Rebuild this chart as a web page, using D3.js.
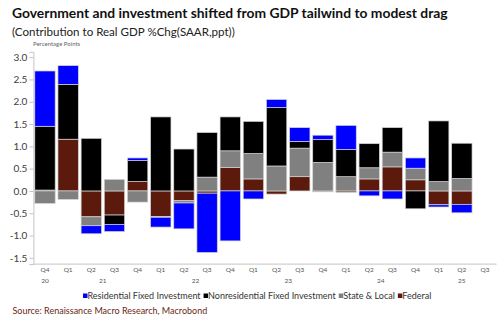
<!DOCTYPE html>
<html>
<head>
<meta charset="utf-8">
<script src="https://cdn.jsdelivr.net/npm/d3@7"></script>
<style>
  body { margin: 0; background: #fff; }
  svg { display: block; }
  text { font-family: Lato, "Open Sans", sans-serif; }
</style>
</head>
<body>
<svg id="chart" width="500" height="323"></svg>
<script>
// Quarterly periods, Q4 2020 through Q3 2025
const periods = ["2020Q4",
  "2021Q1", "2021Q2", "2021Q3", "2021Q4",
  "2022Q1", "2022Q2", "2022Q3", "2022Q4",
  "2023Q1", "2023Q2", "2023Q3", "2023Q4",
  "2024Q1", "2024Q2", "2024Q3", "2024Q4",
  "2025Q1", "2025Q2", "2025Q3"];

// Contributions to real GDP growth, ppt (SAAR); Q3 2025 not yet reported
const federal    = [0.02, 1.16, -0.58, -0.54, 0.21, -0.57, -0.22, -0.05, 0.53, 0.27, -0.07, 0.32, -0.02, -0.03, 0.27, 0.54, 0.25, -0.31, -0.30, null];
const stateLocal = [-0.28, -0.19, -0.20, 0.26, -0.25, -0.02, -0.05, 0.31, 0.37, 0.57, 0.56, 0.64, 0.64, 0.32, 0.25, 0.33, 0.26, 0.21, 0.28, null];
const nonresFixed = [1.43, 1.23, 1.18, -0.21, 0.47, 1.66, 0.94, 1.00, 0.76, 0.72, 1.31, 0.15, 0.51, 0.61, 0.54, 0.55, -0.40, 1.36, 0.79, null];
const resFixed   = [1.24, 0.42, -0.18, -0.16, 0.06, -0.22, -0.58, -1.33, -1.12, -0.18, 0.18, 0.31, 0.10, 0.54, -0.11, -0.18, 0.23, -0.05, -0.19, null];

const yTicks = [3.0, 2.5, 2.0, 1.5, 1.0, 0.5, 0.0, -0.5, -1.0, -1.5];

// Legend order and series styling
const seriesNames = ["Residential Fixed Investment", "Nonresidential Fixed Investment", "State & Local", "Federal"];
const seriesKeys  = ["resid", "nonres", "state", "federal"];
const seriesColors = ["#0000ff", "#000000", "#808080", "#5c1a0c"];

const svg = d3.select("#chart");

// Titles
const title = svg.append("text")
  .attr("x", 12).attr("y", 18)
  .attr("font-size", 14).attr("font-weight", 700).attr("fill", "#111")
  .text("Government and investment shifted from GDP tailwind to modest drag");
const subtitle = svg.append("text")
  .attr("x", 12).attr("y", 36)
  .attr("font-size", 12).attr("fill", "#222")
  .text("(Contribution to Real GDP %Chg(SAAR,ppt))");
svg.append("text")
  .attr("x", 33).attr("y", 46)
  .attr("font-size", 6).attr("fill", "#666")
  .text("Percentage Points");

// Scale a text's font size so it spans a given width
function fitWidth(sel, w) {
  const len = sel.node().getComputedTextLength();
  sel.attr("font-size", parseFloat(sel.attr("font-size")) * w / len);
}
fitWidth(title, 436);
fitWidth(subtitle, 223);

// Scales
const x = d3.scaleBand().domain(periods)
  .range([33.4, 496.6]).paddingInner(0.12).paddingOuter(0.06);
const y = d3.scaleLinear().domain([-1.64, 3.12]).range([264.1, 51.8]);

// Stack: federal nearest zero, then state & local, nonresidential, residential
const rows = periods.map((p, i) => ({
  period: p,
  federal: federal[i] ?? 0,
  state: stateLocal[i] ?? 0,
  nonres: nonresFixed[i] ?? 0,
  resid: resFixed[i] ?? 0
}));
const stackKeys = ["federal", "state", "nonres", "resid"];
const stacked = d3.stack().keys(stackKeys)
  .order(d3.stackOrderNone).offset(d3.stackOffsetDiverging)(rows);

const colorOf = d3.scaleOrdinal().domain(seriesKeys).range(seriesColors);

svg.append("g").selectAll("g")
  .data(stacked)
  .join("g")
  .attr("fill", s => colorOf(s.key))
  .selectAll("rect")
  .data(s => s.filter(d => d[1] !== d[0]))
  .join("rect")
  .attr("x", d => x(d.data.period))
  .attr("width", x.bandwidth())
  .attr("y", d => y(d[1]))
  .attr("height", d => y(d[0]) - y(d[1]))
  .attr("stroke", "#d4d4d4")
  .attr("stroke-width", 0.7);

// Y axis
const yAxis = svg.append("g")
  .attr("transform", `translate(${x.range()[0]},0)`)
  .call(d3.axisLeft(y).tickValues(yTicks).tickSize(4).tickPadding(2)
    .tickFormat(d => d.toFixed(1)));
yAxis.select(".domain").attr("stroke", "#c4c4c4");
yAxis.selectAll(".tick line").attr("stroke", "#c4c4c4");
yAxis.selectAll(".tick text")
  .attr("font-family", "Lato, 'Open Sans', sans-serif")
  .attr("font-size", 10).attr("fill", "#404040");

// X axis: quarter labels with year labels centred under each year
svg.append("line")
  .attr("x1", x.range()[0]).attr("x2", x.range()[1])
  .attr("y1", y.range()[0]).attr("y2", y.range()[0])
  .attr("stroke", "#c4c4c4");

const xLabels = svg.append("g").attr("fill", "#555").attr("font-size", 6.5)
  .attr("text-anchor", "middle");
xLabels.selectAll("text.q")
  .data(periods)
  .join("text")
  .attr("class", "q")
  .attr("x", p => x(p) + x.bandwidth() / 2)
  .attr("y", 272)
  .text(p => p.slice(4));

const years = d3.groups(periods, p => p.slice(2, 4));
xLabels.selectAll("text.yr")
  .data(years)
  .join("text")
  .attr("class", "yr")
  .attr("x", ([, ps]) => (x(ps[0]) + x(ps[ps.length - 1]) + x.bandwidth()) / 2)
  .attr("y", 283)
  .text(([yr]) => yr);

// Legend
const legend = svg.append("g").attr("transform", "translate(83,0)");
let lx = 0;
const legendSize = 9.5;
seriesNames.forEach((name, i) => {
  legend.append("rect")
    .attr("x", lx).attr("y", 293.5).attr("width", 4.5).attr("height", 4.5)
    .attr("fill", seriesColors[i]);
  const t = legend.append("text")
    .attr("x", lx + 4.5).attr("y", 299)
    .attr("font-size", legendSize).attr("fill", "#333")
    .text(name);
  lx += 4.5 + t.node().getComputedTextLength() + 3;
});
// keep the legend within its span
const legendSpan = 347;
if (Math.abs(lx - 3 - legendSpan) > 2) {
  const k = legendSpan / (lx - 3);
  legend.selectAll("text").attr("font-size", legendSize * k);
  let nx = 0;
  legend.selectAll("rect").each(function (d, i) {
    const r = d3.select(this).attr("x", nx);
    const t = d3.select(legend.selectAll("text").nodes()[i]).attr("x", nx + 4.5);
    nx += 4.5 + t.node().getComputedTextLength() + 3;
  });
}

// Source line
const source = svg.append("text")
  .attr("x", 12.5).attr("y", 313.5)
  .attr("font-size", 9).attr("fill", "#6b1f12")
  .text("Source: Renaissance Macro Research, Macrobond");
fitWidth(source, 195);
</script>
</body>
</html>
